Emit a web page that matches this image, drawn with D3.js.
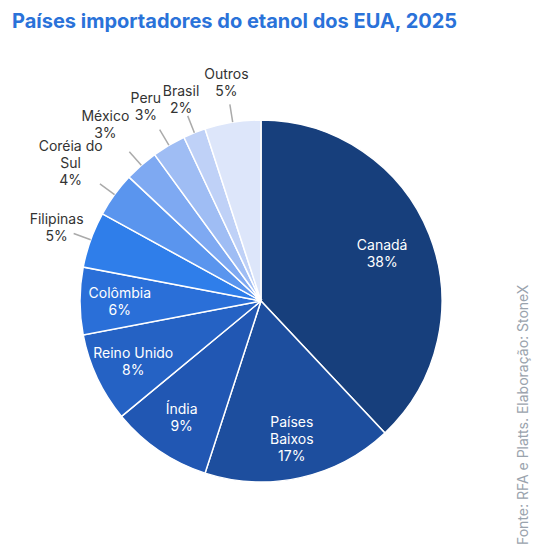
<!DOCTYPE html><html><head><meta charset="utf-8"><script src="https://cdn.jsdelivr.net/npm/d3@7"></script>
<style>body{margin:0;background:#fff;font-family:Inter,"Noto Sans",sans-serif}</style></head><body><svg id="c" width="538" height="557"></svg>
<script>
const categories=["Canadá","Países Baixos","Índia","Reino Unido","Colômbia","Filipinas","Coréia do Sul","México","Peru","Brasil","Outros"];
const values=[38,17,9,8,6,5,4,3,3,2,5];
const labelLines=[["Canadá"],["Países","Baixos"],["Índia"],["Reino Unido"],["Colômbia"],["Filipinas"],["Coréia do","Sul"],["México"],["Peru"],["Brasil"],["Outros"]];
const colors=["#173f7c","#1d4e9e","#2157b3","#2562c4","#2a6fd8","#2f7eea","#5a95ee","#7ea9f2","#9fbdf4","#bfd1f7","#dde6fa"];
const outside=[false,false,false,false,false,true,true,true,true,true,true];
const outR=[0,0,0,0,0,1.2,1.3,1.3,1.25,1.2,1.22];
const svg=d3.select("#c");
svg.append("text").attr("x",12).attr("y",28).attr("fill","#2a72d9").attr("font-size",20).attr("font-weight",700).text("Países importadores do etanol dos EUA, 2025");
svg.append("text").attr("transform","translate(528,545) rotate(-90)").attr("fill","#9aa3ad").attr("font-size",14).text("Fonte: RFA e Platts. Elaboração: StoneX");
const cx=261,cy=301,r=181;
const g=svg.append("g").attr("transform",`translate(${cx},${cy})`);
const pie=d3.pie().sort(null).value(d=>d)(values);
const arc=d3.arc().innerRadius(0).outerRadius(r);
g.selectAll("path").data(pie).join("path").attr("d",arc).attr("fill",(d,i)=>colors[i]).attr("stroke","#fff").attr("stroke-width",1.5);
pie.forEach((d,i)=>{
  const a=(d.startAngle+d.endAngle)/2;
  const pt=k=>[Math.sin(a)*r*k,-Math.cos(a)*r*k];
  const lines=labelLines[i].concat([values[i]+"%"]);
  let p,fill;
  if(outside[i]){
    p=pt(outR[i]);fill="#333";
    const p1=pt(1.0),p2=pt(1.1);
    g.append("polyline").attr("points",[p1,p2].map(q=>q.join(",")).join(" ")).attr("fill","none").attr("stroke","#aaa").attr("stroke-width",1.5);
  } else {p=pt(i==0?0.72:0.78);fill="#fff";}
  const t=g.append("text").attr("text-anchor","middle").attr("fill",fill).attr("font-size",14);
  const h=17, y0=p[1]-(lines.length-1)*h/2+5;
  lines.forEach((s,j)=>t.append("tspan").attr("x",p[0]).attr("y",y0+j*h).text(s));
});
</script></body></html>
